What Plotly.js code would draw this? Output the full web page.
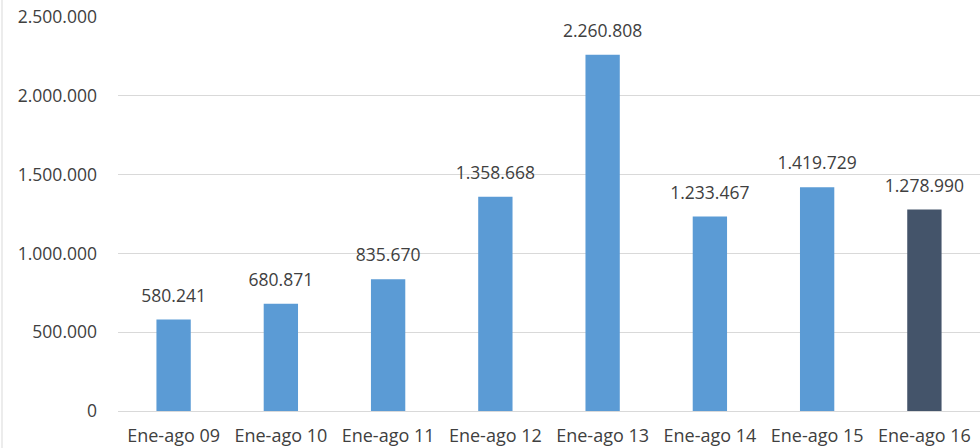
<!DOCTYPE html>
<html>
<head>
<meta charset="utf-8">
<script src="https://cdn.plot.ly/plotly-3.0.1.min.js"></script>
<style>html,body{margin:0;padding:0;background:#fff;}#chart{width:980px;height:448px;}</style>
</head>
<body>
<div id="chart"></div>
<script>
const categories = ["Ene-ago 09","Ene-ago 10","Ene-ago 11","Ene-ago 12","Ene-ago 13","Ene-ago 14","Ene-ago 15","Ene-ago 16"];
const values = [580241, 680871, 835670, 1358668, 2260808, 1233467, 1419729, 1278990];
const barColors = ["#5B9BD5","#5B9BD5","#5B9BD5","#5B9BD5","#5B9BD5","#5B9BD5","#5B9BD5","#44546A"];
const yTicks = [0, 500000, 1000000, 1500000, 2000000, 2500000];

const font = "Open Sans, DejaVu Sans, sans-serif";
const bars = {
  type: "bar",
  x: categories,
  y: values,
  marker: {color: barColors},
  hoverinfo: "none"
};
const labels = {
  type: "scatter",
  mode: "markers+text",
  x: categories,
  y: values,
  marker: {size: 20, opacity: 0},
  text: values,
  texttemplate: "%{y:,d}",
  textposition: "top center",
  cliponaxis: false,
  textfont: {family: font, size: 17.5, color: "#404040"},
  hoverinfo: "none"
};
const layout = {
  width: 980, height: 448,
  margin: {l: 118, r: 0, t: 17, b: 37},
  separators: ",.",
  paper_bgcolor: "#fff", plot_bgcolor: "#fff",
  bargap: 0.68,
  showlegend: false,
  font: {family: font, size: 17.5, color: "#404040"},
  xaxis: {
    type: "category",
    showgrid: false, zeroline: false, showline: false,
    ticks: "",
    ticklabelstandoff: 12,
    tickfont: {family: font, size: 18, color: "#404040"}
  },
  yaxis: {
    range: [0, 2500000],
    tickvals: yTicks,
    tickformat: ",d",
    showgrid: true, gridcolor: "#D9D9D9", gridwidth: 1,
    zeroline: true, zerolinecolor: "#D9D9D9", zerolinewidth: 1,
    showline: false, ticks: "",
    ticklabelstandoff: 20,
    tickfont: {family: font, size: 17.5, color: "#404040"}
  },
  shapes: [{
    type: "line", xref: "paper", yref: "paper",
    x0: -116/862, x1: -116/862, y0: -37/394, y1: 1 + 17/394,
    line: {color: "#D9D9D9", width: 1}
  }]
};
Plotly.newPlot("chart", [bars, labels], layout, {displayModeBar: false, staticPlot: true});
</script>
</body>
</html>
